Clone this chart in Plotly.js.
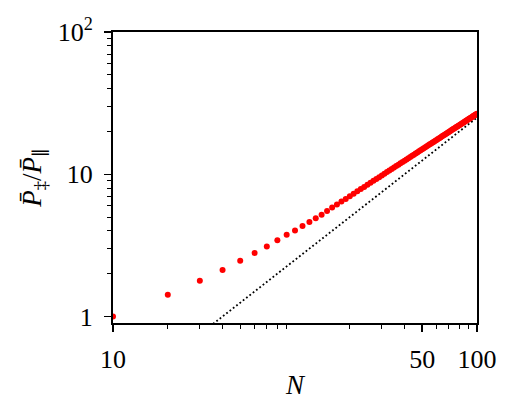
<!DOCTYPE html>
<html>
<head>
<meta charset="utf-8">
<script src="https://cdn.plot.ly/plotly-3.0.1.min.js"></script>
<style>html,body{margin:0;padding:0;background:#fff;}#chart{width:519px;height:417px;}</style>
</head>
<body>
<div id="chart"></div>
<script>
// N positions (axis units) for the red points
const N = [];
for (let i = 1; i <= 100; i++) N.push(i);
// ratio values
const ratio = [
  1.00, 1.42, 1.78, 2.12, 2.47, 2.79, 3.11, 3.43, 3.75, 4.03,
  4.33, 4.62, 4.91, 5.20, 5.52, 5.83, 6.12, 6.42, 6.71, 7.01,
  7.30, 7.58, 7.87, 8.15, 8.43, 8.71, 8.99, 9.26, 9.54, 9.81,
  10.08, 10.35, 10.62, 10.88, 11.15, 11.41, 11.67, 11.94, 12.20, 12.46,
  12.71, 12.97, 13.23, 13.48, 13.73, 13.99, 14.24, 14.49, 14.74, 14.99,
  15.24, 15.49, 15.73, 15.98, 16.22, 16.47, 16.71, 16.95, 17.20, 17.44,
  17.68, 17.92, 18.16, 18.40, 18.64, 18.87, 19.11, 19.35, 19.58, 19.82,
  20.05, 20.29, 20.52, 20.76, 20.99, 21.22, 21.45, 21.68, 21.91, 22.14,
  22.37, 22.60, 22.83, 23.06, 23.29, 23.51, 23.74, 23.96, 24.19, 24.42,
  24.64, 24.87, 25.09, 25.31, 25.54, 25.76, 25.98, 26.20, 26.43, 26.65
];
// dotted reference line endpoints
const refX = [3, 100];
const refY = [0.75, 25];
// ticks
const xTickVals = [1, 50, 100];
const xTickText = ['10', '50', '100'];
const xMinorVals = [2, 3, 4, 5, 6, 7, 8, 9, 20, 30, 40, 60, 70, 80, 90];
const yTickVals = [1, 10, 100];
const yTickText = ['1', '10', '10<sup>2</sup>'];
const yMinorVals = [2, 3, 4, 5, 6, 7, 8, 9, 20, 30, 40, 50, 60, 70, 80, 90];

const FONT = 'Liberation Serif, DejaVu Serif, serif';

const traces = [
  {
    x: refX, y: refY, type: 'scatter', mode: 'lines',
    line: {color: '#000000', width: 1.8, dash: '1.8px,2.4px'},
    hoverinfo: 'skip', showlegend: false
  },
  {
    x: N, y: ratio, type: 'scatter', mode: 'markers',
    marker: {color: '#ff0000', size: 6, line: {width: 0}},
    showlegend: false
  }
];

const axisCommon = {
  type: 'log',
  showgrid: false,
  zeroline: false,
  showline: true,
  linecolor: '#000000',
  linewidth: 2,
  mirror: true,
  ticks: 'outside',
  ticklen: 7,
  tickwidth: 1.5,
  tickcolor: '#000000',
  tickmode: 'array',
  tickfont: {family: FONT, size: 26, color: '#000000'}
};

const layout = {
  width: 519, height: 417,
  autosize: false,
  margin: {l: 113, r: 42, t: 32, b: 94},
  paper_bgcolor: '#ffffff',
  plot_bgcolor: '#ffffff',
  showlegend: false,
  xaxis: Object.assign({}, axisCommon, {
    range: [0, 2],
    tickvals: xTickVals,
    ticktext: xTickText,
    ticklabelstandoff: 5,
    minor: {tickmode: 'array', tickvals: xMinorVals, ticks: 'outside', ticklen: 4, tickwidth: 1, tickcolor: '#000000', showgrid: false},
    title: {text: '<i>N</i>', font: {family: FONT, size: 27, color: '#000000'}, standoff: 2}
  }),
  yaxis: Object.assign({}, axisCommon, {
    range: [Math.log10(0.9), 2],
    tickvals: yTickVals,
    ticktext: yTickText,
    ticklabelstandoff: 6,
    minor: {tickmode: 'array', tickvals: yMinorVals, ticks: 'outside', ticklen: 4, tickwidth: 1, tickcolor: '#000000', showgrid: false},
    title: {text: '<i>P\u0304</i><sub>\u2021</sub>/<i>P\u0304</i><sub>\u2225</sub>', font: {family: FONT, size: 27, color: '#000000'}, standoff: 8}
  })
};

Plotly.newPlot('chart', traces, layout, {displayModeBar: false, staticPlot: true});
</script>
</body>
</html>
